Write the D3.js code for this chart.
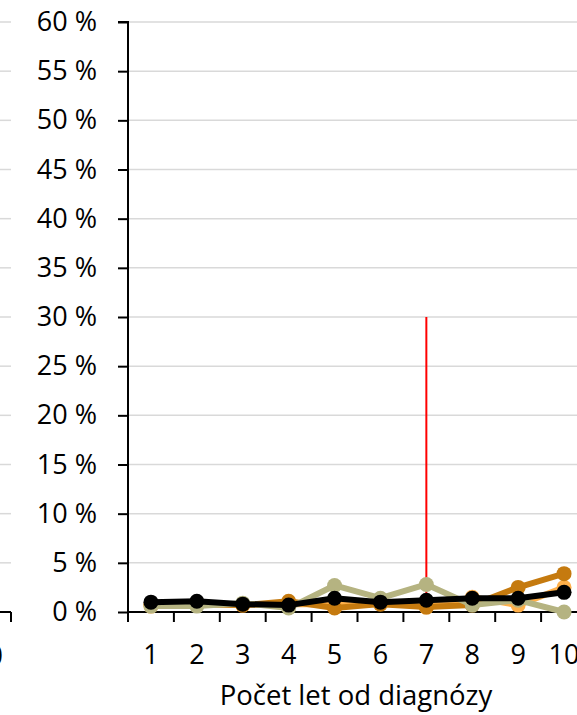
<!DOCTYPE html>
<html><head><meta charset="utf-8">
<script src="https://cdn.jsdelivr.net/npm/d3@7"></script>
<style>html,body{margin:0;padding:0;background:#fff;overflow:hidden}</style>
</head><body>
<svg id="c" width="577" height="715"></svg>
<script>
const categories = [1,2,3,4,5,6,7,8,9,10];
const yTicks = [0,5,10,15,20,25,30,35,40,45,50,55,60];
const seriesLightOrange = [0.6,0.8,0.7,0.8,0.8,1.0,0.5,1.5,0.7,2.5];
const seriesDarkOrange  = [0.8,0.8,0.7,1.1,0.4,0.8,0.5,0.7,2.5,3.9];
const seriesKhaki       = [0.6,0.6,0.9,0.4,2.7,1.4,2.8,0.7,1.2,0.0];
const seriesBlack       = [1.0,1.1,0.8,0.7,1.4,1.0,1.2,1.4,1.4,2.0];
const markerCategory = 7, markerTop = 30;
const xTitle = "Počet let od diagnózy";

const svg = d3.select("#c");
const font = "'Open Sans', sans-serif";
const y = d3.scaleLinear().domain([0,60]).range([612,22]);
const x = d3.scaleBand().domain(categories).range([128,587]);
const cx = c => x(c) + x.bandwidth()/2;

// left panel remnants
const gl = svg.append("g");
yTicks.slice(1).forEach(t => gl.append("line").attr("x1",0).attr("x2",11)
  .attr("y1",y(t)).attr("y2",y(t)).attr("stroke","#d9d9d9").attr("stroke-width",1.5));
gl.append("line").attr("x1",0).attr("x2",11).attr("y1",y(0)).attr("y2",y(0)).attr("stroke","#000").attr("stroke-width",2);
gl.append("line").attr("x1",11).attr("x2",11).attr("y1",y(0)).attr("y2",y(0)+10).attr("stroke","#000").attr("stroke-width",2);
gl.append("text").attr("x",3).attr("y",665).attr("text-anchor","end")
  .attr("font-family",font).attr("font-size",27).text("10");

// gridlines
svg.append("g").selectAll("line").data(yTicks.slice(1)).join("line")
  .attr("x1",128).attr("x2",577).attr("y1",d=>y(d)).attr("y2",d=>y(d))
  .attr("stroke","#d9d9d9").attr("stroke-width",1.5);

// y axis
const ya = svg.append("g").attr("transform","translate(128,0)")
  .call(d3.axisLeft(y).tickValues(yTicks).tickSize(10).tickPadding(21).tickFormat(d=>d+" %"));
ya.select(".domain").attr("stroke","#000").attr("stroke-width",2).attr("d","M0,"+y(0)+"V"+y(60)+"H-10");
ya.selectAll(".tick line").attr("stroke","#000").attr("stroke-width",2);
ya.selectAll("text").attr("font-family",font).attr("font-size",27).attr("fill","#000");

// x axis
const xa = svg.append("g").attr("transform","translate(0,"+y(0)+")")
  .call(d3.axisBottom(x).tickSize(0).tickPadding(33));
xa.select(".domain").attr("stroke","#000").attr("stroke-width",2).attr("d","M128,0H577");
xa.selectAll("text").attr("font-family",font).attr("font-size",27).attr("fill","#000");
const bounds = categories.map((c,i)=>x(c)).concat([x(categories[9])+x.bandwidth()]);
xa.selectAll(".bt").data(bounds).join("line").attr("x1",d=>d).attr("x2",d=>d)
  .attr("y1",0).attr("y2",10).attr("stroke","#000").attr("stroke-width",2);

svg.append("text").attr("x",356).attr("y",705).attr("text-anchor","middle")
  .attr("font-family",font).attr("font-size",27.5).attr("fill","#000").text(xTitle);

// red marker line
svg.append("line").attr("x1",cx(markerCategory)).attr("x2",cx(markerCategory))
  .attr("y1",y(markerTop)).attr("y2",y(0)).attr("stroke","#ff0000").attr("stroke-width",2);

const series = [
  {v:seriesLightOrange, c:"#ffb04a"},
  {v:seriesDarkOrange, c:"#c57a0f"},
  {v:seriesKhaki, c:"#b5b381"},
  {v:seriesBlack, c:"#000000"}
];
const line = d3.line().x((d,i)=>cx(categories[i])).y(d=>y(d));
series.forEach(s=>{
  const g = svg.append("g");
  g.append("path").attr("d",line(s.v)).attr("fill","none").attr("stroke",s.c).attr("stroke-width",6).attr("stroke-linejoin","round");
  g.selectAll("circle").data(s.v).join("circle").attr("cx",(d,i)=>cx(categories[i])).attr("cy",d=>y(d)).attr("r",7.5).attr("fill",s.c);
});
</script>
</body></html>
